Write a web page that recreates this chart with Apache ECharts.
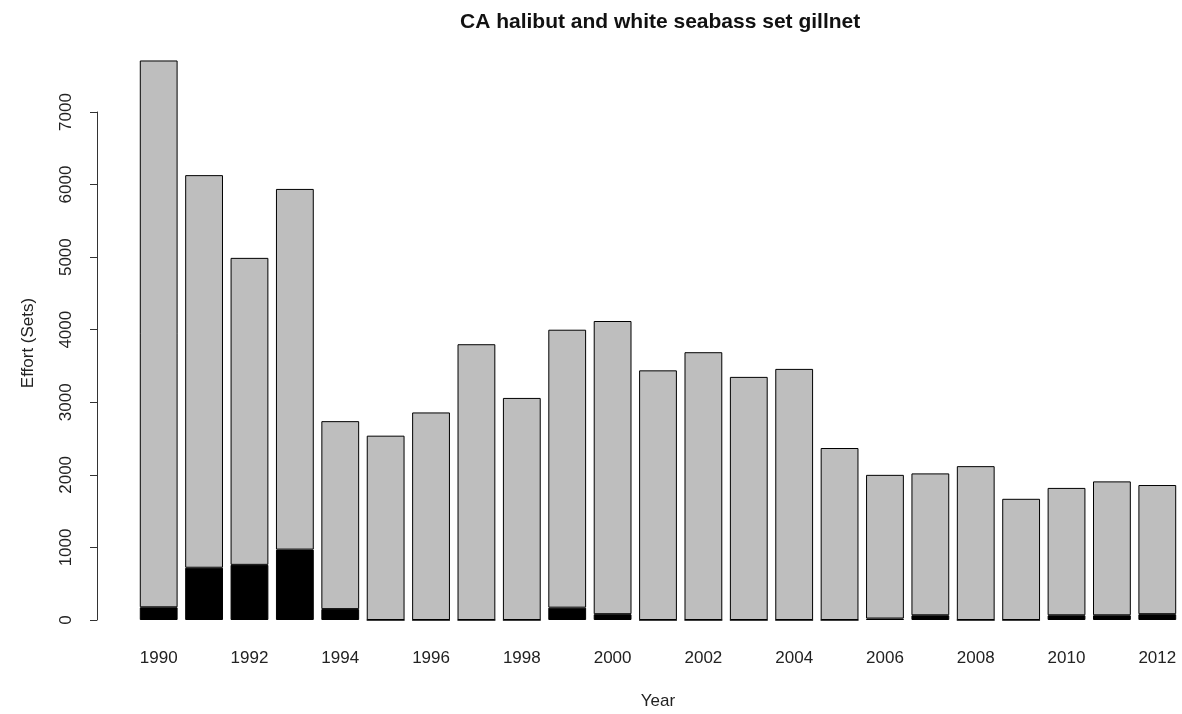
<!DOCTYPE html>
<html>
<head>
<meta charset="utf-8">
<script src="https://cdn.jsdelivr.net/npm/echarts@6/dist/echarts.min.js"></script>
<style>
  html, body { margin: 0; padding: 0; background: #fff; }
  #chart { width: 1182px; height: 714px; }
</style>
</head>
<body>
<div id="chart"></div>
<script>
const years = ["1990", "1991", "1992", "1993", "1994", "1995", "1996", "1997", "1998", "1999", "2000", "2001",
  "2002", "2003", "2004", "2005", "2006", "2007", "2008", "2009", "2010", "2011", "2012"];
// total effort per year (sets)
const totalSets = [7710, 6130, 4990, 5940, 2740, 2540, 2860, 3800, 3060, 4000, 4120, 3440,
  3690, 3350, 3460, 2370, 2000, 2020, 2120, 1670, 1820, 1910, 1860];
// black part at the bottom of each bar
const blackSets = [175, 720, 760, 970, 150, 0, 0, 0, 0, 170, 80, 0,
  0, 0, 0, 0, 20, 65, 0, 0, 65, 65, 80];
const yTicks = [0, 1000, 2000, 3000, 4000, 5000, 6000, 7000];

const greySets = totalSets.map((t, i) => t - blackSets[i]);

const chart = echarts.init(document.getElementById("chart"));
const font = "Liberation Sans, Arial, sans-serif";

const option = {
  animation: false,
  backgroundColor: "#fff",
  title: {
    text: "CA halibut and white seabass set gillnet",
    left: 455,
    top: 7,
    textStyle: { fontFamily: font, fontSize: 21, fontWeight: "bold", color: "#111" }
  },
  grid: {
    left: 136,
    width: 1044,
    top: 112,
    bottom: 94,
    containLabel: false,
    outerBoundsMode: "none"
  },
  xAxis: {
    type: "category",
    data: years,
    name: "Year",
    nameLocation: "middle",
    nameGap: 73,
    nameTextStyle: { fontFamily: font, fontSize: 17, color: "#222" },
    axisLine: { show: false },
    axisTick: { show: false },
    axisLabel: {
      interval: 1,
      margin: 30,
      fontFamily: font,
      fontSize: 17,
      color: "#222"
    }
  },
  yAxis: {
    type: "value",
    min: yTicks[0],
    max: yTicks[yTicks.length - 1],
    interval: 1000,
    offset: 39,
    name: "Effort (Sets)",
    nameLocation: "middle",
    nameGap: 60,
    nameTextStyle: { fontFamily: font, fontSize: 17, color: "#222", padding: [0, 0, 0, 46] },
    splitLine: { show: false },
    axisLine: { show: true, lineStyle: { color: "#333", width: 1 } },
    axisTick: { show: true, length: 7, lineStyle: { color: "#333" } },
    axisLabel: {
      rotate: 90,
      margin: 22,
      fontFamily: font,
      fontSize: 17,
      color: "#222",
      formatter: (v) => String(v)
    }
  },
  series: [
    {
      name: "black",
      type: "bar",
      stack: "effort",
      data: blackSets,
      barCategoryGap: "16.7%",
      clip: false,
      itemStyle: { color: "#000", borderColor: "#000", borderWidth: 1 }
    },
    {
      name: "grey",
      type: "bar",
      stack: "effort",
      data: greySets,
      barCategoryGap: "16.7%",
      clip: false,
      itemStyle: { color: "#bebebe", borderColor: "#000", borderWidth: 1 }
    }
  ]
};

chart.setOption(option);
</script>
</body>
</html>
